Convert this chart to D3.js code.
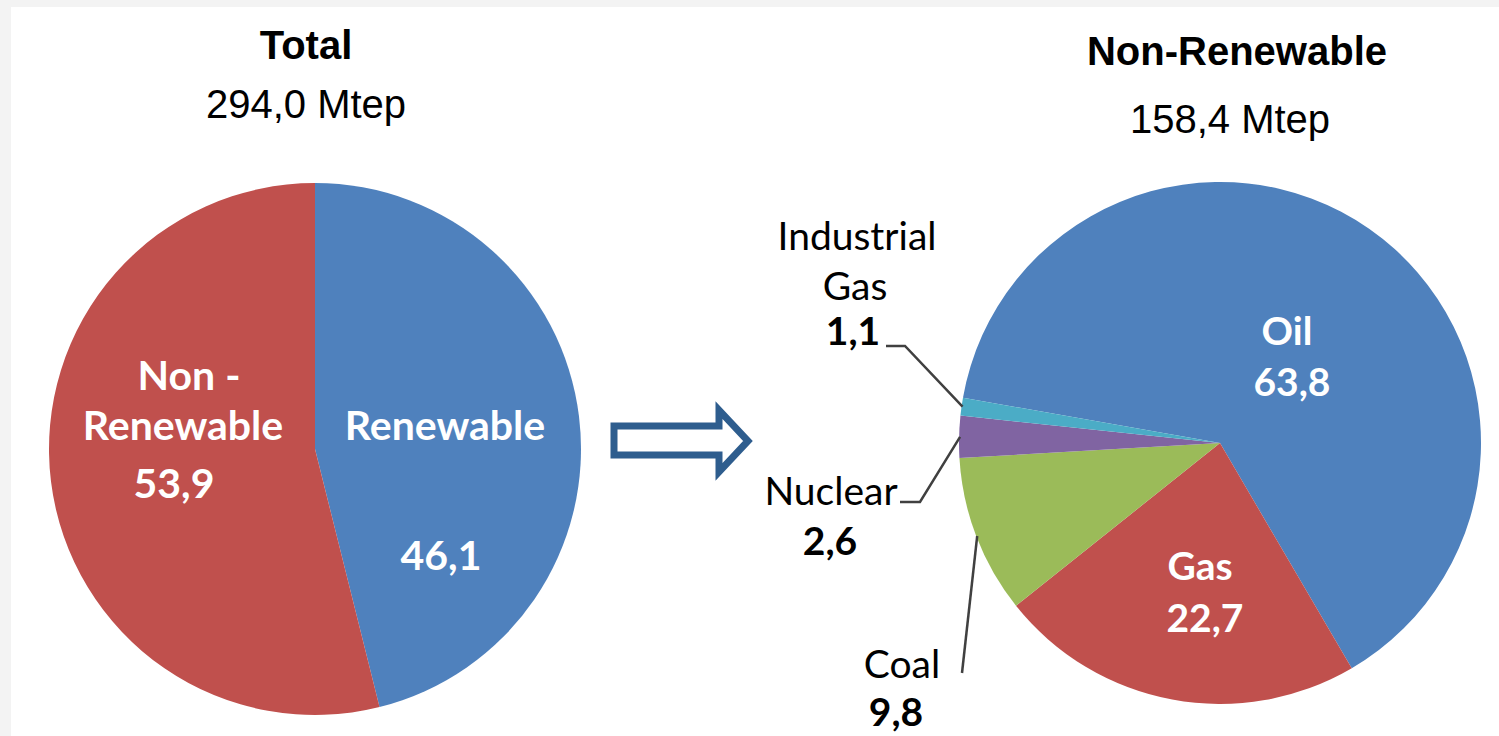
<!DOCTYPE html>
<html>
<head>
<meta charset="utf-8">
<script src="https://cdn.jsdelivr.net/npm/d3@7"></script>
<style>
  html, body { margin: 0; padding: 0; background: #f3f3f3; }
  svg { display: block; }
  .title { font-family: "Liberation Sans", Arial, sans-serif; fill: #000; }
  .inner { font-family: Lato, "Open Sans", sans-serif; font-weight: bold; fill: #fff; }
  .outer { font-family: Lato, "Open Sans", sans-serif; fill: #000; }
</style>
</head>
<body>
<div id="chart"></div>
<script>
// data
var totalNames = ["Renewable", "Non-Renewable"];
var totalValues = [46.1, 53.9];
var totalColors = ["#4f81bd", "#c0504d"];

var nonRenNames = ["Oil", "Gas", "Coal", "Nuclear", "Industrial Gas"];
var nonRenValues = [63.8, 22.7, 9.8, 2.6, 1.1];
var nonRenColors = ["#4f81bd", "#c0504d", "#9bbb59", "#8064a2", "#4bacc6"];

var titles = [["Total", "294,0 Mtep"], ["Non-Renewable", "158,4 Mtep"]];

var fmt = function (v) { return d3.format(".1f")(v).replace(".", ","); };

var width = 1499, height = 736;

var svg = d3.select("#chart")
  .append("svg")
  .attr("width", width)
  .attr("height", height);

// white panel
svg.append("rect")
  .attr("x", 11).attr("y", 7)
  .attr("width", width - 11).attr("height", height - 7)
  .attr("fill", "#fff");

// titles
svg.append("text").attr("class", "title").attr("x", 306).attr("y", 59)
  .attr("text-anchor", "middle").style("font-size", "40px").style("font-weight", "bold")
  .text(titles[0][0]);
svg.append("text").attr("class", "title").attr("x", 306).attr("y", 118)
  .attr("text-anchor", "middle").style("font-size", "40px")
  .text(titles[0][1]);
svg.append("text").attr("class", "title").attr("x", 1237).attr("y", 65)
  .attr("text-anchor", "middle").style("font-size", "40px").style("font-weight", "bold")
  .text(titles[1][0]);
svg.append("text").attr("class", "title").attr("x", 1230).attr("y", 133)
  .attr("text-anchor", "middle").style("font-size", "40px")
  .text(titles[1][1]);

// left pie
var left = { cx: 315, cy: 449, r: 266 };
var pieLeft = d3.pie().sort(null).value(function (d) { return d; });
var arcLeft = d3.arc().innerRadius(0).outerRadius(left.r);

var gl = svg.append("g")
  .attr("transform", "translate(" + left.cx + "," + left.cy + ")");

gl.selectAll("path")
  .data(pieLeft(totalValues))
  .enter()
  .append("path")
  .attr("d", arcLeft)
  .attr("fill", function (d, i) { return totalColors[i]; });

// label placement (offsets from pie centre)
var leftLabels = [
  [{ t: "Renewable", dx: 130, dy: -9 }, { t: fmt(totalValues[0]), dx: 126, dy: 121 }],
  [{ t: "Non -", dx: -126, dy: -59 }, { t: "Renewable", dx: -132, dy: -9 }, { t: fmt(totalValues[1]), dx: -141, dy: 49 }]
];
leftLabels.forEach(function (lines) {
  lines.forEach(function (l) {
    gl.append("text").attr("class", "inner")
      .attr("x", l.dx).attr("y", l.dy)
      .attr("text-anchor", "middle")
      .style("font-size", "41px")
      .text(l.t);
  });
});

// arrow
var arrow = d3.path();
arrow.moveTo(614, 426);
arrow.lineTo(719, 426);
arrow.lineTo(719, 410);
arrow.lineTo(748, 441);
arrow.lineTo(719, 472);
arrow.lineTo(719, 455);
arrow.lineTo(614, 455);
arrow.closePath();
svg.append("path")
  .attr("d", arrow.toString())
  .attr("fill", "#fff")
  .attr("stroke", "#2e5d8e")
  .attr("stroke-width", 7)
  .attr("stroke-linejoin", "miter");

// right pie
var right = { cx: 1220, cy: 443, r: 261 };
var start = -80 * Math.PI / 180;
var pieRight = d3.pie().sort(null).value(function (d) { return d; })
  .startAngle(start).endAngle(start + 2 * Math.PI);
var arcRight = d3.arc().innerRadius(0).outerRadius(right.r);
var arcRim = d3.arc().innerRadius(right.r - 1).outerRadius(right.r - 1);

var gr = svg.append("g")
  .attr("transform", "translate(" + right.cx + "," + right.cy + ")");

var slices = pieRight(nonRenValues);

gr.selectAll("path")
  .data(slices)
  .enter()
  .append("path")
  .attr("d", arcRight)
  .attr("fill", function (d, i) { return nonRenColors[i]; });

// inside labels
var innerLabels = [
  [{ t: "Oil", dx: 67, dy: -98 }, { t: fmt(nonRenValues[0]), dx: 72, dy: -47 }],
  [{ t: "Gas", dx: -20, dy: 137 }, { t: fmt(nonRenValues[1]), dx: -15, dy: 189 }]
];
innerLabels.forEach(function (lines) {
  lines.forEach(function (l) {
    gr.append("text").attr("class", "inner")
      .attr("x", l.dx).attr("y", l.dy)
      .attr("text-anchor", "middle")
      .style("font-size", "39px")
      .text(l.t);
  });
});

// outside labels with leader lines (absolute page positions)
var outerLabels = {
  "Coal": { lines: [["Coal", 902, 678, false], [fmt(nonRenValues[2]), 896, 726, true]], leader: [[962, 673]] },
  "Nuclear": { lines: [["Nuclear", 831, 505, false], [fmt(nonRenValues[3]), 830, 555, true]], leader: [[900, 502], [920, 502]] },
  "Industrial Gas": { lines: [["Industrial", 857, 250, false], ["Gas", 855, 300, false], [fmt(nonRenValues[4]), 853, 345, true]], leader: [[886, 346], [905, 346]] }
};

slices.forEach(function (d, i) {
  var lab = outerLabels[nonRenNames[i]];
  if (!lab) return;
  var rim = arcRim.centroid(d);
  var pts = lab.leader.concat([[right.cx + rim[0], right.cy + rim[1]]]);
  svg.append("path")
    .attr("d", d3.line()(pts))
    .attr("fill", "none")
    .attr("stroke", "#404040")
    .attr("stroke-width", 2.5);
  lab.lines.forEach(function (l) {
    svg.append("text").attr("class", "outer")
      .attr("x", l[1]).attr("y", l[2])
      .attr("text-anchor", "middle")
      .style("font-size", "39px")
      .style("font-weight", l[3] ? "bold" : "normal")
      .text(l[0]);
  });
});
</script>
</body>
</html>
